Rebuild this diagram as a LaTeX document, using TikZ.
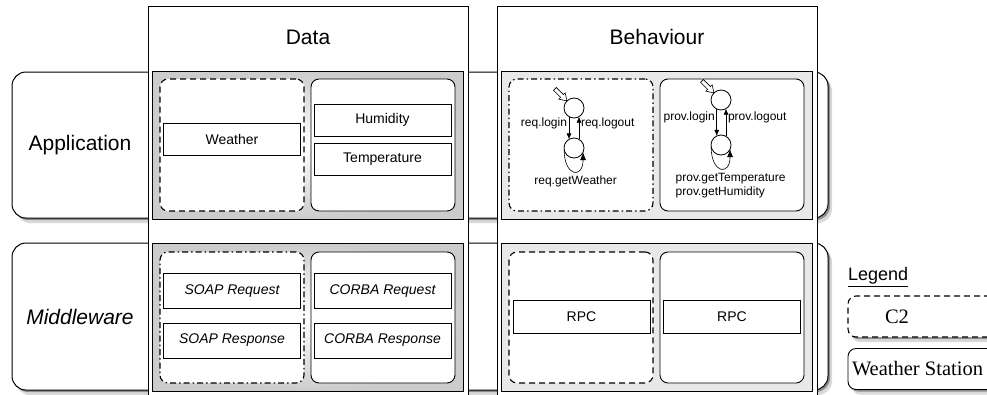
\documentclass[tikz,border=0pt]{standalone}
\usepackage{fontspec}
\setmainfont{Liberation Sans}
\newfontfamily\legendfont{Liberation Serif}
\usetikzlibrary{arrows.meta,shadows,positioning}

\begin{document}
\begin{tikzpicture}[x=1pt, y=-1pt, >={Latex[length=6pt,width=5pt]}, semithick, inner sep=0pt, outer sep=0pt,
  soft shadow/.style={drop shadow={shadow xshift=2pt, shadow yshift=-2pt, opacity=0.35, fill=black},
                      drop shadow={shadow xshift=4pt, shadow yshift=-5pt, opacity=0.15, fill=black}},
  layerbox/.style={draw, fill=white, line width=1pt, rounded corners=14pt, minimum width=816pt, minimum height=146pt, soft shadow},
  aspectcol/.style={draw, fill=white, line width=1pt, minimum width=320pt, minimum height=400pt},
  datacell/.style={draw, line width=0.8pt, inner color=white, outer color=black!20, minimum width=311pt, minimum height=148pt},
  behcell/.style={draw, line width=0.8pt, fill=black!9, minimum width=311pt, minimum height=148pt},
  comp/.style={draw=black, fill=white, line width=0.9pt, rounded corners=8pt, minimum width=144pt, minimum height=132pt},
  compdash/.style={comp, line width=1.1pt, dash pattern=on 6pt off 4pt},
  compdashdot/.style={comp, line width=1.1pt, dash pattern=on 6pt off 3pt on 1.5pt off 3pt},
  msg/.style={draw, fill=white, line width=0.7pt, minimum width=137pt, minimum height=33pt, font=\fontsize{14}{16}\selectfont},
  stnode/.style={draw, circle, fill=white, line width=0.8pt, minimum size=20pt},
  initarrow/.style={draw, fill=white, line width=0.6pt, rotate=-45},
  trans/.style={font=\fontsize{12}{14}\selectfont, inner sep=2pt},
  legbox/.style={draw, fill=white, line width=0.9pt, rounded corners=8pt, minimum width=160pt, minimum height=41pt, anchor=west, soft shadow},
  legtext/.style={font=\legendfont\fontsize{20.5}{22}\selectfont},
  bigtext/.style={font=\fontsize{21}{25}\selectfont}]
%
\clip (0,0) rectangle (987,394);
%
% layers
\node (app) [layerbox] at (420,145) {};
\node (mw) [layerbox, minimum height=147pt] at (420,316.5) {};
\node (applbl) [bigtext] at (80,145) {Application};
\node (mwlbl) [bigtext, font=\fontsize{21}{25}\selectfont\itshape] at (80,317) {Middleware};
%
% aspects
\node (data) [aspectcol] at (308,206) {};
\node (beh) [aspectcol] at (657,206) {};
\node (datalbl) [bigtext] at (308,37) {Data};
\node (behlbl) [bigtext] at (657,37) {Behaviour};
%
% cells
\node (appdata) [datacell] at (307.5,145) {};
\node (mwdata) [datacell] at (307.5,317) {};
\node (appbeh) [behcell] at (656.5,145) {};
\node (mwbeh) [behcell] at (656.5,317) {};
%
\node (reqappdata) [compdash] at (232,145) {};
\node (provappdata) [comp, right=7pt of reqappdata] {};
\node (reqappbeh) [compdashdot] at (581,145) {};
\node (provappbeh) [comp, right=7pt of reqappbeh] {};
\node (reqmwdata) [compdashdot, minimum height=131pt] at (232,317.5) {};
\node (provmwdata) [comp, minimum height=131pt, right=7pt of reqmwdata] {};
\node (reqmwbeh) [compdash, minimum height=131pt] at (581,317.5) {};
\node (provmwbeh) [comp, minimum height=131pt, right=7pt of reqmwbeh] {};
%
% data types
\node (weather) [msg, minimum height=32pt] at (232,139) {Weather};
\node (humidity) [msg, minimum height=32pt] at (382.5,120) {Humidity};
\node (temperature) [msg, minimum height=32pt, below=7pt of humidity] {Temperature};
\node (soapreq) [msg, minimum height=35pt, font=\fontsize{14}{16}\selectfont\itshape] at (232,291) {SOAP Request};
\node (soapresp) [msg, minimum height=35pt, font=\fontsize{14}{16}\selectfont\itshape, below=14.5pt of soapreq] {SOAP Response};
\node (corbareq) [msg, minimum height=35pt, font=\fontsize{14}{16}\selectfont\itshape] at (382.5,291) {CORBA Request};
\node (corbaresp) [msg, minimum height=35pt, font=\fontsize{14}{16}\selectfont\itshape, below=14.5pt of corbareq] {CORBA Response};
\node (reqrpc) [msg] at (581.5,316.5) {RPC};
\node (provrpc) [msg] at (732,316.5) {RPC};
%
% requester behaviour
\node (reqidle) [stnode] at (574,108) {};
\node (reqbusy) [stnode] at (574,148) {};
\draw [initarrow, shift={(reqidle.135)}] (0,0) -- (-7,4.5) -- (-7,2) -- (-17,2) -- (-17,-2) -- (-7,-2) -- (-7,-4.5) -- cycle;
\path [->] (reqidle.-120) edge node [trans, left, pos=0.3] {req.login} (reqbusy.120);
\path [->] (reqbusy.60) edge node [trans, right, pos=0.7] {req.logout} (reqidle.-60);
\draw [->, >={Latex[length=8pt,width=6pt]}] (reqbusy.190) .. controls +(0,27) and +(0,27) ..
  node [trans, below=3pt, xshift=2pt] {req.getWeather} (reqbusy.-25);
%
% provider behaviour
\node (providle) [stnode] at (721,100) {};
\node (provbusy) [stnode] at (721,145) {};
\draw [initarrow, shift={(providle.135)}] (0,0) -- (-7,4.5) -- (-7,2) -- (-17,2) -- (-17,-2) -- (-7,-2) -- (-7,-4.5) -- cycle;
\path [->] (providle.-115) edge node [trans, left, pos=0.3] {prov.login} (provbusy.115);
\path [->] (provbusy.60) edge node [trans, right, pos=0.7] {prov.logout} (providle.-60);
\draw [->, >={Latex[length=8pt,width=6pt]}] (provbusy.190) .. controls +(0,27) and +(0,27) ..
  node [trans, below=3pt, xshift=10pt, align=left] {prov.getTemperature\\prov.getHumidity} (provbusy.-25);
%
% legend
\node (legendlbl) [anchor=west, font=\fontsize{18}{20}\selectfont] at (848,277) {\underline{Legend}};
\node (legc2) [legbox, line width=1.1pt, dash pattern=on 6pt off 4pt] at (848,316.5) {};
\node (legc2txt) [legtext] at (897,316.5) {C2};
\node (legws) [legbox] at (848,369) {};
\node (legwstxt) [legtext, anchor=west] at (852,369) {Weather Station};
\end{tikzpicture}
\end{document}
